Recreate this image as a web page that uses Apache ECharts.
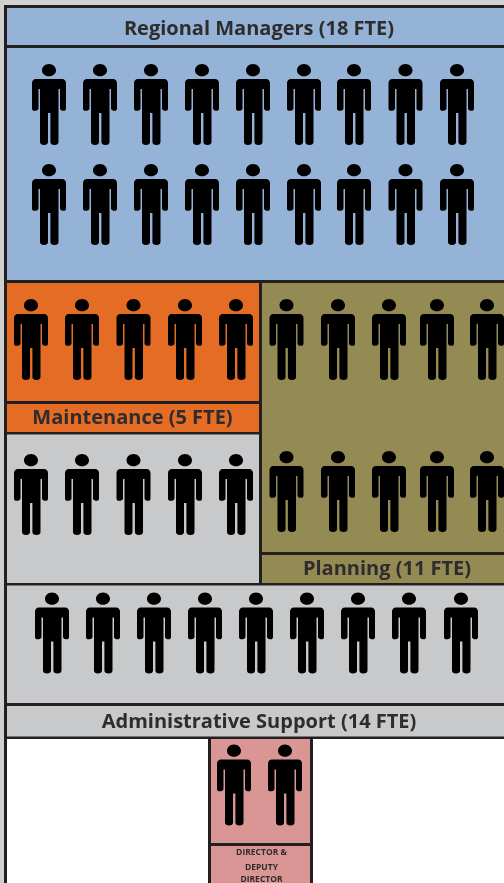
<!DOCTYPE html>
<html>
<head>
<meta charset="utf-8">
<style>html,body{margin:0;padding:0;background:#fff}#c{width:504px;height:883px}</style>
<script src="https://cdn.jsdelivr.net/npm/echarts@6/dist/echarts.min.js"></script>
</head>
<body>
<div id="c"></div>
<script>
// ---- data ----
const teamNames = ['Regional Managers', 'Maintenance', 'Planning', 'Administrative Support', 'DIRECTOR & DEPUTY DIRECTOR'];
const teamFte = [18, 5, 11, 14, 2];
const regionalIconsPerRow = [9, 9];
const maintenanceIconsPerRow = [5];
const planningIconsPerRow = [5, 5];
const adminIconsPerRow = [5, 9];
const directorIconsPerRow = [2];

// ---- layout (page coordinates, separate from values) ----
const W = 504, H = 883;
const INK = '#231f20';
const BLUE = '#95b3d7', ORANGE = '#e46c24', OLIVE = '#948a54', GREY = '#c8c9cb', PINK = '#d99694';
const colsRegional = [49, 100, 151, 202, 253, 304, 354, 405.5, 457];
const colsLeft = [31, 82, 133.5, 185, 236];
const colsPlanning = [286.5, 338, 389, 437, 487];
const colsAdmin = [52, 103, 154, 205, 256, 307, 358, 409, 461];
const colsDirector = [234, 285];

const iconRows = [
  { n: regionalIconsPerRow[0], cols: colsRegional, y: 104.5 },
  { n: regionalIconsPerRow[1], cols: colsRegional, y: 204.5 },
  { n: maintenanceIconsPerRow[0], cols: colsLeft, y: 339.5 },
  { n: planningIconsPerRow[0], cols: colsPlanning, y: 339.5 },
  { n: planningIconsPerRow[1], cols: colsPlanning, y: 491.5 },
  { n: adminIconsPerRow[0], cols: colsLeft, y: 494.5 },
  { n: adminIconsPerRow[1], cols: colsAdmin, y: 633 },
  { n: directorIconsPerRow[0], cols: colsDirector, y: 785 }
];
const iconPoints = [];
iconRows.forEach(r => r.cols.slice(0, r.n).forEach(x => iconPoints.push([x, r.y])));

// x0, y0, x1, y1, fill
const panels = [
  [0, 0, W, H, '#ffffff'],
  [0, 0, W, 5, '#d3d3d3'],
  [0, 0, 4, H, '#cfcfcf'],
  [4, 5, W, 739, INK],
  [4, 739, 7, H, INK],
  [208, 739, 313, H, INK],
  [7, 8, W, 45, BLUE],
  [7, 48, W, 280, BLUE],
  [7, 283, 259, 401, ORANGE],
  [7, 404, 259, 432, ORANGE],
  [7, 434.5, 259, 583, GREY],
  [262, 283, W, 552, OLIVE],
  [262, 555, W, 583, OLIVE],
  [7, 585.5, W, 703, GREY],
  [7, 706, W, 736.5, GREY],
  [211, 739, 310, 843, PINK],
  [211, 846, 310, H, PINK]
];

// cx, cy, text, font size
const labels = [
  [259, 29, `${teamNames[0]} (${teamFte[0]} FTE)`, 20],
  [132.5, 418.5, `${teamNames[1]} (${teamFte[1]} FTE)`, 20],
  [387, 569.5, `${teamNames[2]} (${teamFte[2]} FTE)`, 20],
  [259, 722, `${teamNames[3]} (${teamFte[3]} FTE)`, 20],
  [261.5, 852.5, 'DIRECTOR &', 8.5],
  [261.5, 867.5, 'DEPUTY', 8.5],
  [261.5, 880, 'DIRECTOR', 8.5]
];

const personPath = 'path://' +
  'M17 0C21 0 24 3 24 6.2C24 9.6 21 12.3 17 12.3C13 12.3 10 9.6 10 6.2C10 3 13 0 17 0Z' +
  'M4 15L30 15C32.5 15 34 16.8 34 19L34 44.5C34 46 33 46.8 31.8 46.8C30 46.8 28 46 28 44.5L28 25L26.5 25L26.5 78' +
  'C26.5 80 25 81 22.5 81C20 81 18.4 80 18.4 78L18.4 49L16 49L16 78C16 80 14.5 81 12 81C9.5 81 8 80 8 78L8 25L6.5 25' +
  'L6.5 44.5C6.5 46 4.5 46.8 2.6 46.8C1 46.8 0 46 0 44.5L0 19C0 16.8 1.5 15 4 15Z';

const chart = echarts.init(document.getElementById('c'), null, { renderer: 'canvas' });
chart.setOption({
  animation: false,
  grid: { left: 0, right: 0, top: 0, bottom: 0 },
  xAxis: { type: 'value', min: 0, max: W, show: false },
  yAxis: { type: 'value', min: 0, max: H, inverse: true, show: false },
  series: [
    {
      type: 'custom', z: 1, silent: true, clip: true,
      data: panels,
      renderItem: (p, api) => {
        const a = api.coord([api.value(0), api.value(1)]);
        const b = api.coord([api.value(2), api.value(3)]);
        return { type: 'rect', shape: { x: a[0], y: a[1], width: b[0] - a[0], height: b[1] - a[1] },
                 style: { fill: panels[p.dataIndex][4] } };
      }
    },
    {
      type: 'scatter', z: 2, silent: true,
      symbol: personPath, symbolSize: [34, 81], symbolKeepAspect: false,
      itemStyle: { color: '#000000', opacity: 1 },
      data: iconPoints
    },
    {
      type: 'custom', z: 3, silent: true, clip: true,
      data: labels,
      renderItem: (p, api) => {
        const l = labels[p.dataIndex];
        const c = api.coord([l[0], l[1]]);
        return { type: 'text', x: c[0], y: c[1],
                 style: { text: l[2], align: 'center', verticalAlign: 'middle', fill: '#2f2c2d',
                          font: `bold ${l[3]}px "Open Sans", Lato, sans-serif` } };
      }
    }
  ]
});
</script>
</body>
</html>
